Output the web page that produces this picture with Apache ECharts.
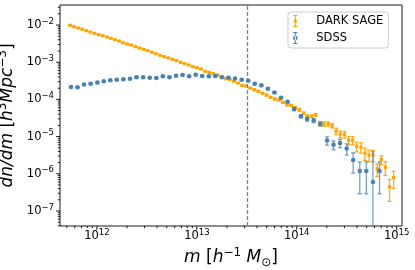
<!DOCTYPE html>
<html><head><meta charset="utf-8">
<script src="https://cdn.jsdelivr.net/npm/echarts@6/dist/echarts.min.js"></script>
<style>html,body{margin:0;padding:0;background:#fff}#c{width:415px;height:270px}</style>
</head><body><div id="c"></div>
<script>
// ---- DARK SAGE (orange) ----
const DS_M = [5.37e11,5.90e11,6.49e11,7.13e11,7.83e11,8.61e11,9.46e11,1.04e12,1.14e12,1.26e12,
1.38e12,1.52e12,1.67e12,1.83e12,2.01e12,2.21e12,2.43e12,2.67e12,2.94e12,3.23e12,
3.55e12,3.90e12,4.29e12,4.71e12,5.18e12,5.69e12,6.25e12,6.87e12,7.55e12,8.30e12,
9.12e12,1.00e13,1.10e13,1.21e13,1.33e13,1.46e13,1.61e13,1.77e13,1.94e13,2.13e13,
2.34e13,2.58e13,2.83e13,3.11e13,3.42e13,3.76e13,4.13e13,4.54e13,4.99e13,5.48e13,
6.03e13,6.62e13,7.28e13,8.00e13,8.79e13,9.66e13,1.06e14,1.17e14,1.28e14,1.41e14,
1.55e14,1.70e14,1.87e14,2.06e14,2.26e14,2.48e14,2.73e14,3.00e14,3.30e14,3.62e14,
3.98e14,4.38e14,4.81e14,5.28e14,5.81e14,6.38e14,7.02e14,7.71e14,8.47e14,9.31e14];
const DS_N = [9.82e-3,9.0e-3,8.31e-3,7.66e-3,7.03e-3,6.48e-3,5.98e-3,5.48e-3,5.16e-3,4.76e-3,
4.39e-3,4.03e-3,3.71e-3,3.34e-3,3.08e-3,2.90e-3,2.61e-3,2.41e-3,2.22e-3,2.04e-3,
1.85e-3,1.69e-3,1.53e-3,1.41e-3,1.30e-3,1.20e-3,1.10e-3,9.94e-4,9.11e-4,8.41e-4,
7.57e-4,7.11e-4,6.57e-4,5.72e-4,5.31e-4,4.93e-4,4.53e-4,4.07e-4,3.60e-4,3.47e-4,
3.07e-4,2.76e-4,2.39e-4,2.29e-4,2.02e-4,1.82e-4,1.65e-4,1.46e-4,1.31e-4,1.14e-4,
1.025e-4,9.63e-5,8.36e-5,7.20e-5,6.94e-5,5.98e-5,5.19e-5,4.23e-5,3.51e-5,3.51e-5,
3.81e-5,2.25e-5,2.18e-5,2.18e-5,1.96e-5,1.40e-5,1.17e-5,1.14e-5,7.95e-6,7.97e-6,
5.48e-6,5.19e-6,3.58e-6,3.20e-6,3.20e-6,1.35e-6,2.41e-6,1.50e-6,4.42e-7,7.86e-7];
const DS_ERR = [2.0e-4,1.8e-4,1.7e-4,1.5e-4,1.4e-4,1.3e-4,1.2e-4,1.1e-4,1.0e-4,9.5e-5,
8.8e-5,8.1e-5,7.4e-5,6.7e-5,6.2e-5,5.8e-5,5.2e-5,4.8e-5,4.4e-5,4.1e-5,
3.7e-5,3.4e-5,3.1e-5,2.8e-5,2.6e-5,2.4e-5,2.2e-5,2.0e-5,1.8e-5,1.7e-5,
1.5e-5,1.4e-5,1.3e-5,1.2e-5,1.0e-5,1.0e-5,9.1e-6,8.1e-6,7.2e-6,6.9e-6,
6.1e-6,5.5e-6,4.8e-6,4.6e-6,4.0e-6,9.1e-6,8.3e-6,7.3e-6,6.6e-6,5.7e-6,
5.1e-6,4.8e-6,4.2e-6,3.6e-6,3.5e-6,4.8e-6,4.2e-6,3.4e-6,2.8e-6,2.8e-6,
3.0e-6,2.9e-6,2.8e-6,2.8e-6,2.5e-6,2.8e-6,2.3e-6,2.3e-6,2.0e-6,2.0e-6,
1.6e-6,1.6e-6,1.3e-6,1.1e-6,1.1e-6,5.0e-7,6.5e-7,6.0e-7,2.6e-7,3.8e-7];

// ---- SDSS (blue) ----
const SDSS_M = [5.50e11,6.39e11,7.43e11,8.65e11,1.01e12,1.17e12,1.36e12,1.58e12,1.84e12,2.14e12,
2.49e12,2.90e12,3.38e12,3.93e12,4.57e12,5.32e12,6.19e12,7.20e12,8.37e12,9.74e12,
1.13e13,1.32e13,1.53e13,1.78e13,2.07e13,2.41e13,2.81e13,3.27e13,3.80e13,4.42e13,
5.14e13,5.98e13,6.96e13,8.09e13,9.41e13,1.10e14,1.27e14,1.48e14,1.72e14,2.01e14,
2.33e14,2.71e14,3.16e14,3.67e14,4.27e14,4.97e14,5.78e14,6.73e14];
const SDSS_N = [2.155e-4,2.115e-4,2.515e-4,2.64e-4,2.85e-4,3.08e-4,3.26e-4,3.385e-4,3.47e-4,3.60e-4,
3.93e-4,3.93e-4,3.81e-4,3.76e-4,4.18e-4,3.93e-4,4.34e-4,4.53e-4,4.20e-4,4.61e-4,
4.26e-4,4.18e-4,4.26e-4,3.93e-4,3.83e-4,3.645e-4,3.36e-4,3.18e-4,2.63e-4,2.39e-4,
1.93e-4,1.53e-4,1.11e-4,8.62e-5,5.52e-5,3.53e-5,2.97e-5,2.71e-5,2.18e-5,7.86e-6,
6.02e-6,6.73e-6,4.79e-6,2.35e-6,1.19e-6,1.19e-6,6.02e-7,1.19e-6];
const SDSS_ERR = [6.5e-6,6.3e-6,7.5e-6,7.9e-6,8.6e-6,9.2e-6,9.8e-6,1.0e-5,1.0e-5,1.1e-5,
1.2e-5,1.2e-5,1.1e-5,1.1e-5,1.3e-5,1.2e-5,1.3e-5,1.4e-5,1.3e-5,1.4e-5,
1.3e-5,1.3e-5,1.3e-5,1.2e-5,1.1e-5,1.1e-5,1.0e-5,9.5e-6,1.3e-5,1.2e-5,
9.7e-6,7.7e-6,5.6e-6,4.3e-6,5.5e-6,3.5e-6,3.6e-6,3.3e-6,2.6e-6,2.0e-6,
1.6e-6,1.7e-6,1.6e-6,1.3e-6,9e-7,9e-7,3.3e-6,9e-7];

// ---- axes ----
const X_MIN = 4.27e11, X_MAX = 1.13e15;
const Y_MIN = 3.95e-8, Y_MAX = 3.45e-2;
const X_MAJOR = [1e12, 1e13, 1e14, 1e15];
const Y_MAJOR = [1e-7, 1e-6, 1e-5, 1e-4, 1e-3, 1e-2];
const VLINE_M = 3.16e13;
const LEGEND_NAMES = ['DARK SAGE', 'SDSS'];

const FONT = 'DejaVu Sans';
const ORANGE = '#FFA500', BLUE = '#4682B4';

function minorTicks(lo, hi) {
  const out = [];
  for (let e = Math.floor(Math.log10(lo)); e <= Math.ceil(Math.log10(hi)); e++) {
    for (let k = 2; k <= 9; k++) {
      const v = k * Math.pow(10, e);
      if (v >= lo && v <= hi) out.push(v);
    }
  }
  return out;
}
const X_MINOR = minorTicks(X_MIN, X_MAX);
const Y_MINOR = minorTicks(Y_MIN, Y_MAX);

function tickLabel(v) {
  const l = Math.log10(v), r = Math.round(l);
  if (Math.abs(l - r) > 1e-6) return '';
  return '{b|10}{s|' + (r < 0 ? '\u2212' : '') + Math.abs(r) + '}';
}
const labelRich = {
  b: {fontFamily: FONT, fontSize: 11.5, lineHeight: 16, color: '#000'},
  s: {fontFamily: FONT, fontSize: 8.5, lineHeight: 9, verticalAlign: 'top', color: '#000'}
};

function errSeries(name, xs, ys, es, color, opacity, z) {
  return {
    type: 'custom', name: name, z: z, silent: true, clip: true,
    data: xs.map((x, i) => [x, ys[i], es[i]]),
    renderItem: function (params, api) {
      const x = api.value(0), y = api.value(1), e = api.value(2);
      const hi = y + e;
      let lo = y - e;
      const open = lo <= 0;
      if (open) lo = Y_MIN * 0.1;
      const p1 = api.coord([x, hi]), p2 = api.coord([x, lo]);
      const w = 2;
      const st = {stroke: color, lineWidth: 1.3, opacity: opacity};
      const ch = [
        {type: 'line', shape: {x1: p1[0], y1: p1[1], x2: p2[0], y2: p2[1]}, style: st},
        {type: 'line', shape: {x1: p1[0] - w, y1: p1[1], x2: p1[0] + w, y2: p1[1]}, style: st}
      ];
      if (!open) ch.push({type: 'line', shape: {x1: p2[0] - w, y1: p2[1], x2: p2[0] + w, y2: p2[1]}, style: st});
      return {type: 'group', children: ch};
    }
  };
}

const ICON_SQ = 'path://M2,0L3,0L3,12L2,12Z M0.5,0L4.5,0L4.5,1L0.5,1Z M0.5,11L4.5,11L4.5,12L0.5,12Z M1,4.5L4,4.5L4,7.5L1,7.5Z';
const ICON_CI = 'path://M2,0L3,0L3,12L2,12Z M0.5,0L4.5,0L4.5,1L0.5,1Z M0.5,11L4.5,11L4.5,12L0.5,12Z M0.2,6A2.3,2.3 0 1,0 4.8,6A2.3,2.3 0 1,0 0.2,6Z';

const chart = echarts.init(document.getElementById('c'), null, {renderer: 'canvas'});
chart.setOption({
  animation: false,
  backgroundColor: '#fff',
  grid: {left: 60, right: 13, top: 5, bottom: 44, show: true, borderColor: '#1a1a1a', borderWidth: 1,
         backgroundColor: 'transparent', containLabel: false, outerBoundsMode: 'none'},
  legend: {
    data: [{name: LEGEND_NAMES[0], icon: ICON_SQ}, {name: LEGEND_NAMES[1], icon: ICON_CI}],
    orient: 'vertical', left: 288, top: 12,
    itemWidth: 22, itemHeight: 12, itemGap: 5,
    padding: [3, 5, 4, 5],
    backgroundColor: 'rgba(255,255,255,0.8)', borderColor: '#cccccc', borderWidth: 1, borderRadius: 3,
    textStyle: {fontFamily: FONT, fontSize: 11.5, color: '#000', padding: [0, 0, 0, 5]},
    selectedMode: false
  },
  xAxis: {
    type: 'log', logBase: 10, min: X_MIN, max: X_MAX,
    axisLine: {show: false}, axisTick: {show: false}, splitLine: {show: false}, minorTick: {show: false},
    axisLabel: {formatter: tickLabel, rich: labelRich, margin: 2, showMinLabel: false, showMaxLabel: false},
    name: '{i|m} {n|[}{i|h}{p|\u22121} {i|M}{q|\u2299}{n|]}',
    nameLocation: 'middle', nameGap: 18,
    nameTextStyle: {fontFamily: FONT, fontSize: 17, color: '#000', rich: {
      i: {fontFamily: FONT, fontStyle: 'italic', fontSize: 17, lineHeight: 22, color: '#000'},
      n: {fontFamily: FONT, fontSize: 17, lineHeight: 22, color: '#000'},
      p: {fontFamily: FONT, fontSize: 12, lineHeight: 12, verticalAlign: 'top', color: '#000'},
      q: {fontFamily: FONT, fontSize: 12, lineHeight: 12, verticalAlign: 'bottom', color: '#000'}
    }}
  },
  yAxis: {
    type: 'log', logBase: 10, min: Y_MIN, max: Y_MAX,
    axisLine: {show: false}, axisTick: {show: false}, splitLine: {show: false}, minorTick: {show: false},
    axisLabel: {formatter: tickLabel, rich: labelRich, margin: 6, showMinLabel: false, showMaxLabel: false},
    name: '{i|dn/dm} {n|[}{i|h}{p|3}{i|Mpc}{p|\u22123}{n|]}',
    nameLocation: 'middle', nameGap: 35, nameRotate: 90,
    nameTextStyle: {fontFamily: FONT, fontSize: 17, color: '#000', rich: {
      i: {fontFamily: FONT, fontStyle: 'italic', fontSize: 17, lineHeight: 22, color: '#000'},
      n: {fontFamily: FONT, fontSize: 17, lineHeight: 22, color: '#000'},
      p: {fontFamily: FONT, fontSize: 12, lineHeight: 12, verticalAlign: 'top', color: '#000'}
    }}
  },
  series: [
    errSeries('DARK SAGE err', DS_M, DS_N, DS_ERR, ORANGE, 0.9, 2),
    {
      type: 'scatter', name: LEGEND_NAMES[0], z: 3, symbol: 'rect', symbolSize: 3.2,
      itemStyle: {color: ORANGE, opacity: 1}, silent: true,
      data: DS_M.map((m, i) => [m, DS_N[i]]),
      markLine: {
        symbol: 'none', silent: true, label: {show: false},
        lineStyle: {type: [4, 2], color: '#808080', width: 1.3},
        data: [{xAxis: VLINE_M}]
      }
    },
    errSeries('SDSS err', SDSS_M, SDSS_N, SDSS_ERR, BLUE, 0.75, 4),
    {
      type: 'scatter', name: LEGEND_NAMES[1], z: 5, symbol: 'circle', symbolSize: 4.6,
      itemStyle: {color: BLUE, opacity: 1}, silent: true,
      data: SDSS_M.map((m, i) => [m, SDSS_N[i]])
    },
    {
      type: 'custom', name: 'ticks', z: 10, silent: true, clip: false,
      data: [[1e13, 1e-4]],
      renderItem: function (params, api) {
        const ch = [];
        const st = {stroke: '#000', lineWidth: 0.9};
        const add = (x1, y1, x2, y2) => ch.push({type: 'line', shape: {x1, y1, x2, y2}, style: st});
        X_MAJOR.forEach(v => { const p = api.coord([v, Y_MIN]); add(p[0], p[1], p[0], p[1] + 3.9); });
        X_MINOR.forEach(v => { const p = api.coord([v, Y_MIN]); add(p[0], p[1], p[0], p[1] + 2.2); });
        Y_MAJOR.forEach(v => { const p = api.coord([X_MIN, v]); add(p[0] - 3.9, p[1], p[0], p[1]); });
        Y_MINOR.forEach(v => { const p = api.coord([X_MIN, v]); add(p[0] - 2.2, p[1], p[0], p[1]); });
        return {type: 'group', children: ch};
      }
    }
  ]
});
</script>
</body></html>
